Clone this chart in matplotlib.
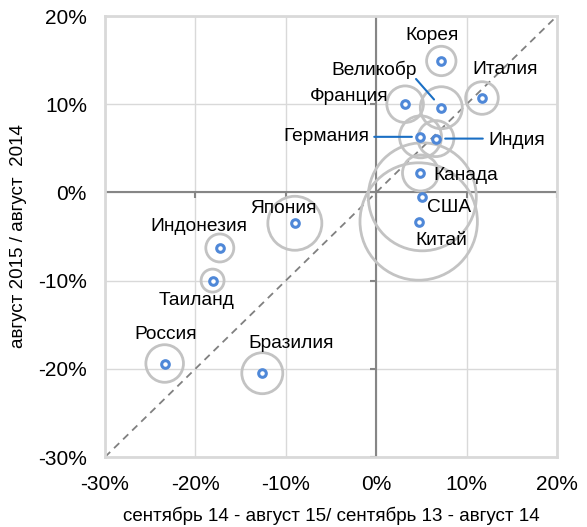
import matplotlib.pyplot as plt
import numpy as np

plt.rcParams['font.family'] = ['Liberation Sans', 'DejaVu Sans']

countries = ['Корея', 'Италия', 'Великобр', 'Франция', 'Германия', 'Индия', 'Канада',
             'США', 'Китай', 'Япония', 'Индонезия', 'Таиланд', 'Россия', 'Бразилия']
growth_x = [7.2, 11.7, 7.2, 3.2, 4.9, 6.6, 4.9, 5.1, 4.7, -9.0, -17.3, -18.1, -23.4, -12.6]
growth_y = [14.9, 10.7, 9.6, 10.0, 6.3, 6.1, 2.2, -0.5, -3.3, -3.5, -6.3, -10.0, -19.4, -20.5]
# bubble radius (relative weight)
bubble = [14.7, 16.3, 21, 18.3, 21, 18, 18, 54, 58.7, 27, 14, 11.5, 18.8, 20.5]
ticks = [-30, -20, -10, 0, 10, 20]

# label offsets in points relative to the point
label_off = {
    'Корея': (-7, 18.7), 'Италия': (16.6, 20.4), 'Великобр': (-48.5, 27.1),
    'Франция': (-40.3, 5.3), 'Германия': (-68.1, 0), 'Индия': (58.3, -1.2),
    'Канада': (32.4, -1.7), 'США': (19, -7.4), 'Китай': (16.6, -13.9),
    'Япония': (-7.9, 10.3), 'Индонезия': (-15.3, 15.6), 'Таиланд': (-11.7, -14.6),
    'Россия': (0.5, 20.9), 'Бразилия': (20.4, 21.6),
}
# leader lines: start offset (pt), shrink at point end (pt)
leaders = {
    'Великобр': ((-18.2, 20.7), 7.9),
    'Германия': ((-33.3, 0), 6.2),
    'Индия': ((33.8, 0), 6.7),
}

fig = plt.figure(figsize=(5.87, 5.27), dpi=100)
ax = fig.add_axes([105 / 587, 1 - 457 / 527, 452 / 587, 441 / 527])

ax.set_xlim(-30, 20)
ax.set_ylim(-30, 20)
ax.set_xticks(ticks)
ax.set_yticks(ticks)
ax.set_xticklabels([f'{t}%' for t in ticks])
ax.set_yticklabels([f'{t}%' for t in ticks])
ax.tick_params(length=0, labelsize=15, pad=13)
ax.grid(True, color='#d9d9d9', lw=1)
ax.set_axisbelow(True)
for s in ax.spines.values():
    s.set_color('#d9d9d9')
    s.set_linewidth(2)

# zero lines with small tick marks
ax.axhline(0, color='#868686', lw=1.5, zorder=1)
ax.axvline(0, color='#868686', lw=1.5, zorder=1)
ax.plot(np.zeros(len(ticks)), ticks, ls='none', marker=0, ms=4, mew=1.5, color='#868686', zorder=1)
ax.plot(ticks, np.zeros(len(ticks)), ls='none', marker=3, ms=4, mew=1.5, color='#868686', zorder=1)

ax.plot([-30, 20], [-30, 20], ls=(0, (4, 3)), color='#808080', lw=1.3, zorder=2)

sizes = [(2 * r * 0.72) ** 2 for r in bubble]
ax.scatter(growth_x, growth_y, s=sizes, facecolors='none', edgecolors='#c3c3c3', linewidths=2, zorder=3)
ax.scatter(growth_x, growth_y, s=30, facecolors='white', edgecolors='#4f88d8', linewidths=2.2, zorder=4)

for name, gx, gy in zip(countries, growth_x, growth_y):
    ax.annotate(name, (gx, gy), xytext=label_off[name], textcoords='offset points',
                ha='center', va='center', fontsize=13.8, zorder=5)
    if name in leaders:
        start, shrink = leaders[name]
        ax.annotate('', (gx, gy), xytext=start, textcoords='offset points',
                    arrowprops=dict(arrowstyle='-', color='#1a6fc4', lw=1.5,
                                    shrinkA=0, shrinkB=shrink), zorder=5)

ax.set_xlabel('сентябрь 14 - август 15/ сентябрь 13 - август 14', fontsize=13.5, labelpad=9)
ax.set_ylabel('август 2015 / август  2014', fontsize=13.5, labelpad=8)

fig.savefig('out.png', dpi=100)
